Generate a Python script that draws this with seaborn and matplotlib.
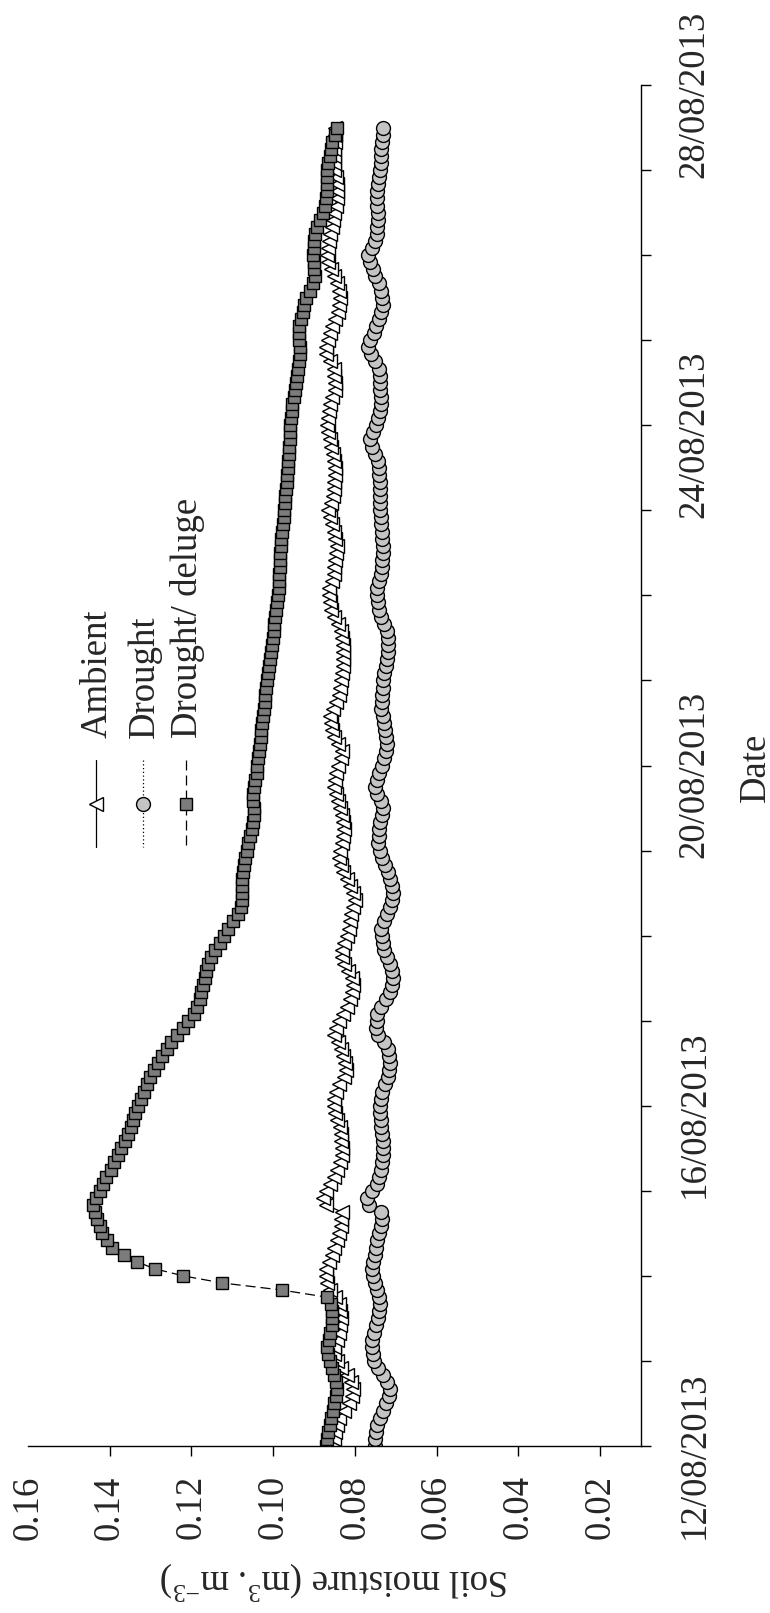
import numpy as np
import pandas as pd
import matplotlib
matplotlib.use("Agg")
import matplotlib.pyplot as plt
from matplotlib.lines import Line2D
from matplotlib.transforms import ScaledTranslation
import seaborn as sns

# Two-hourly soil moisture readings (m3 m-3) from 12/08/2013 00:00
hours = list(range(0, 374, 2))

ambient = [
    .0855, .0852, .0849, .0845, .0838, .0826, .0815, .0808, .0805, .0810, .0820, .0833,
    .0845, .0850, .0850, .0845, .0840, .0837, .0835, .0837, .0840, .0848, .0860, .0869,
    .0872, .0872, .0864, .0857, .0851, .0845, .0840, .0835, .0833, .0832, .0870, .0879,
    .0871, .0862, .0852, .0843, .0836, .0832, .0832, .0833, .0835, .0837, .0843, .0849,
    .0852, .0851, .0847, .0838, .0826, .0823, .0824, .0829, .0834, .0842, .0851, .0846,
    .0838, .0829, .0820, .0812, .0806, .0804, .0807, .0816, .0827, .0831, .0832, .0826,
    .0819, .0815, .0812, .0809, .0805, .0801, .0804, .0811, .0819, .0828, .0835, .0839,
    .0837, .0831, .0828, .0827, .0829, .0832, .0837, .0842, .0847, .0852, .0849, .0846,
    .0841, .0835, .0832, .0842, .0851, .0855, .0859, .0860, .0854, .0847, .0840, .0836,
    .0834, .0832, .0830, .0829, .0828, .0830, .0832, .0835, .0842, .0850, .0858, .0862,
    .0864, .0864, .0857, .0852, .0850, .0848, .0846, .0845, .0848, .0851, .0857, .0862,
    .0865, .0859, .0853, .0851, .0850, .0849, .0848, .0850, .0854, .0858, .0862, .0867,
    .0869, .0867, .0864, .0861, .0855, .0849, .0848, .0850, .0852, .0860, .0870, .0872,
    .0866, .0861, .0855, .0848, .0842, .0839, .0837, .0838, .0844, .0851, .0858, .0865,
    .0869, .0866, .0863, .0861, .0857, .0853, .0850, .0847, .0845, .0845, .0845, .0847,
    .0850, .0852, .0852, .0851, .0849, .0848, .0848,
]

drought = [
    .0752, .0750, .0748, .0745, .0738, .0731, .0724, .0716, .0714, .0722, .0731, .0743,
    .0753, .0756, .0758, .0759, .0753, .0748, .0744, .0740, .0739, .0742, .0746, .0752,
    .0757, .0759, .0755, .0751, .0748, .0745, .0741, .0737, .0733, .0735, .0765, .0770,
    .0758, .0747, .0741, .0736, .0733, .0731, .0731, .0732, .0734, .0735, .0737, .0739,
    .0738, .0736, .0734, .0726, .0719, .0716, .0714, .0717, .0720, .0730, .0744, .0748,
    .0747, .0746, .0735, .0724, .0715, .0709, .0706, .0709, .0714, .0721, .0728, .0732,
    .0734, .0735, .0729, .0721, .0715, .0709, .0706, .0709, .0713, .0719, .0726, .0733,
    .0739, .0743, .0742, .0740, .0738, .0734, .0731, .0737, .0746, .0750, .0745, .0740,
    .0734, .0728, .0723, .0722, .0724, .0726, .0729, .0732, .0735, .0734, .0733, .0732,
    .0731, .0728, .0725, .0722, .0720, .0719, .0718, .0722, .0729, .0735, .0740, .0744,
    .0747, .0745, .0740, .0736, .0734, .0733, .0731, .0731, .0733, .0734, .0735, .0736,
    .0738, .0739, .0739, .0739, .0739, .0740, .0741, .0743, .0750, .0758, .0763, .0755,
    .0748, .0744, .0739, .0735, .0737, .0739, .0739, .0739, .0740, .0750, .0760, .0767,
    .0762, .0754, .0748, .0741, .0735, .0731, .0733, .0735, .0741, .0750, .0757, .0764,
    .0767, .0759, .0751, .0747, .0745, .0744, .0743, .0745, .0746, .0747, .0744, .0741,
    .0739, .0737, .0736, .0735, .0734, .0732, .0731,
]

deluge = [
    .0871, .0868, .0865, .0861, .0858, .0853, .0850, .0846, .0845, .0847, .0850, .0856,
    .0862, .0866, .0868, .0864, .0860, .0857, .0855, .0856, .0858, .0869, .0979, .1125,
    .1220, .1290, .1334, .1366, .1394, .1407, .1418, .1425, .1430, .1435, .1440, .1433,
    .1425, .1416, .1408, .1398, .1389, .1380, .1372, .1363, .1356, .1349, .1344, .1339,
    .1331, .1323, .1316, .1310, .1301, .1292, .1283, .1273, .1261, .1249, .1236, .1220,
    .1208, .1195, .1186, .1180, .1176, .1171, .1167, .1164, .1160, .1152, .1143, .1131,
    .1121, .1110, .1099, .1087, .1080, .1077, .1077, .1077, .1076, .1074, .1071, .1068,
    .1065, .1061, .1057, .1053, .1050, .1048, .1048, .1050, .1049, .1047, .1044, .1040,
    .1039, .1037, .1034, .1032, .1030, .1029, .1027, .1025, .1023, .1021, .1019, .1017,
    .1016, .1013, .1010, .1008, .1006, .1003, .1000, .0999, .0997, .0996, .0994, .0990,
    .0988, .0986, .0985, .0985, .0984, .0984, .0983, .0982, .0980, .0978, .0976, .0974,
    .0973, .0971, .0970, .0969, .0967, .0966, .0965, .0964, .0962, .0961, .0960, .0958,
    .0958, .0956, .0955, .0953, .0950, .0947, .0945, .0942, .0940, .0937, .0935, .0934,
    .0936, .0938, .0936, .0932, .0928, .0924, .0919, .0910, .0902, .0898, .0899, .0901,
    .0902, .0900, .0899, .0898, .0893, .0885, .0878, .0874, .0871, .0869, .0869, .0869,
    .0869, .0866, .0862, .0858, .0855, .0849, .0843,
]

treatments = ["Ambient", "Drought", "Drought/ deluge"]
moisture_ticks = [0.16, 0.14, 0.12, 0.10, 0.08, 0.06, 0.04, 0.02]
moisture_labels = ["0.16", "0.14", "0.12", "0.10", "0.08", "0.06", "0.04", "0.02"]
day_ticks = pd.date_range("2013-08-12", "2013-08-28", freq="D")
day_labels = [d.strftime("%d/%m/%Y") if (d.day - 12) % 4 == 0 else "" for d in day_ticks]

times = pd.Timestamp("2013-08-12") + pd.to_timedelta(hours, unit="h")

sns.set_style("ticks")
plt.rcParams["font.family"] = ["Liberation Serif", "DejaVu Serif"]
plt.rcParams["mathtext.fontset"] = "custom"
plt.rcParams["mathtext.rm"] = "Liberation Serif"
plt.rcParams["mathtext.it"] = "Liberation Serif:italic"
plt.rcParams["mathtext.default"] = "regular"

FS = 26.5
W, H = 770, 1613
fig = plt.figure(figsize=(W / 100, H / 100), dpi=100)
fig.patch.set_facecolor("white")
ax = fig.add_axes([28 / W, 1 - 1446 / H, (641 - 28) / W, (1446 - 85) / H])

styles = {
    "Ambient": dict(marker="<", markersize=10, markerfacecolor="white", linestyle="-"),
    "Drought": dict(marker="o", markersize=10, markerfacecolor="#c4c4c4", linestyle=(0, (1, 2))),
    "Drought/ deluge": dict(marker="s", markersize=9, markerfacecolor="#7c7c7c", linestyle=(0, (8, 4))),
}
values = {"Ambient": ambient, "Drought": drought, "Drought/ deluge": deluge}

# Time runs up the chart, moisture decreases to the right
for name in treatments:
    df = pd.DataFrame({"moisture": values[name], "time": times})
    sns.lineplot(data=df, x="moisture", y="time", orient="y", sort=True,
                 color="black", linewidth=0.9, markeredgecolor="black",
                 markeredgewidth=1.0, legend=False, ax=ax, **styles[name])

ax.set_xlim(0.16, 0.01)
ax.set_ylim(day_ticks[0], day_ticks[-1])

for side in ("top", "left"):
    ax.spines[side].set_visible(False)
for side in ("bottom", "right"):
    ax.spines[side].set_linewidth(1.0)
    ax.spines[side].set_color("black")
ax.yaxis.tick_right()
ax.xaxis.tick_bottom()
ax.tick_params(axis="both", direction="out", length=7, width=1.0, color="black")

ax.set_xticks(moisture_ticks)
ax.set_xticklabels(moisture_labels, rotation=90, rotation_mode="anchor",
                   ha="right", va="center", fontsize=FS)
ax.tick_params(axis="x", pad=14)
ax.xaxis.get_major_ticks()[0].tick1line.set_visible(False)

ax.set_yticks(day_ticks)
ax.set_yticklabels(day_labels, rotation=90, rotation_mode="anchor",
                   ha="center", va="top", fontsize=FS)
ax.tick_params(axis="y", pad=19)
# date labels sit slightly below their ticks
shift = ScaledTranslation(0, -0.09, fig.dpi_scale_trans)
for lbl in ax.get_yticklabels(which="major"):
    lbl.set_transform(lbl.get_transform() + shift)

ax.yaxis.set_label_position("right")
ax.set_ylabel("Date", fontsize=FS, rotation=90, rotation_mode="anchor",
              ha="center", va="baseline")
ax.yaxis.set_label_coords(1.2023, 0.4989)

ax.set_xlabel(r"Soil moisture (m$^{3}$. m$^{-3}$)", fontsize=FS, rotation=180,
              rotation_mode="anchor", ha="center", va="baseline")
ax.xaxis.set_label_coords(0.4992, -0.0911)

# Legend drawn upright along the time axis
def fx(px):
    return px / W

def fy(py):
    return 1 - py / H

legend_x = {"Ambient": 96, "Drought": 143, "Drought/ deluge": 186}
for name in treatments:
    x = legend_x[name]
    st = styles[name]
    fig.add_artist(Line2D([fx(x), fx(x)], [fy(760), fy(847)], transform=fig.transFigure,
                          color="black", linewidth=0.9, linestyle=st["linestyle"]))
    fig.add_artist(Line2D([fx(x)], [fy(804)], transform=fig.transFigure, linestyle="none",
                          marker=st["marker"], markersize=st["markersize"],
                          markerfacecolor=st["markerfacecolor"], markeredgecolor="black",
                          markeredgewidth=1.0))
    fig.text(fx(x + 11), fy(738), name, rotation=90, rotation_mode="anchor",
             ha="left", va="baseline", fontsize=FS)

fig.savefig("out.png", dpi=100, facecolor="white")
